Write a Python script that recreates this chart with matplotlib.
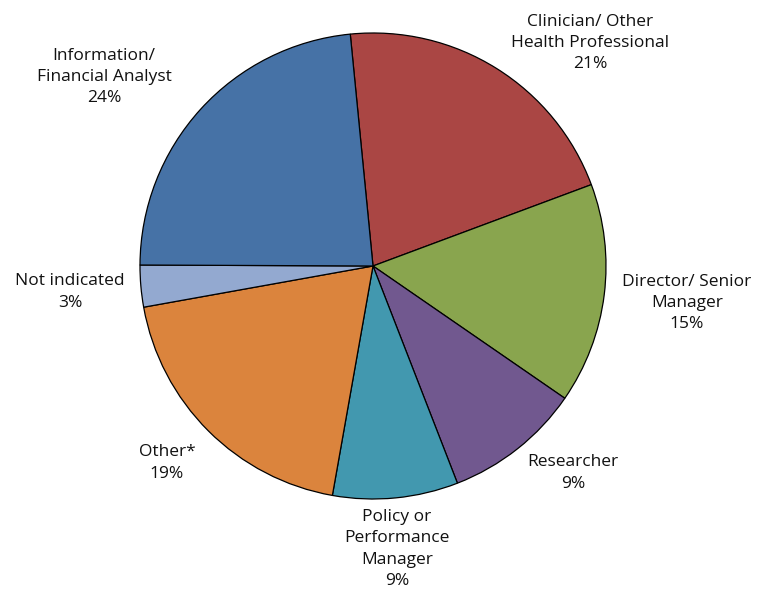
import matplotlib.pyplot as plt

# share of respondents by role (clockwise from the top)
roles = ["Clinician/ Other\nHealth Professional", "Director/ Senior\nManager", "Researcher",
         "Policy or\nPerformance\nManager", "Other*", "Not indicated", "Information/\nFinancial Analyst"]
shares = [20.9, 15.3, 9.5, 8.7, 19.4, 2.9, 23.4]
pct_labels = ["21%", "15%", "9%", "9%", "19%", "3%", "24%"]
colors = ["#AA4644", "#89A54E", "#71588F", "#4298AF", "#DB843D", "#93A9D0", "#4672A6"]

# label centres in pixel coords (x, y from top)
label_pos = [(590, 43), (687, 303), (573, 473), (397, 549), (167, 463), (70, 292), (104, 77)]

W, H = 758, 591
plt.rcParams['font.family'] = ['Open Sans', 'DejaVu Sans']

fig = plt.figure(figsize=(W / 100, H / 100), dpi=100)
ax = fig.add_axes([0, 0, 1, 1])

ax.pie(shares, colors=colors, startangle=95.6, counterclock=False,
       center=(373, H - 266), radius=233,
       wedgeprops=dict(edgecolor="black", linewidth=0.9))

for role, pct, (x, y) in zip(roles, pct_labels, label_pos):
    ax.text(x, H - y, role + "\n" + pct, ha="center", va="center",
            multialignment="center", fontsize=12.5, linespacing=1.45, color="#111111")

ax.set_xlim(0, W)
ax.set_ylim(0, H)
ax.set_aspect("equal")
ax.axis("off")

fig.savefig("out.png", dpi=100)
